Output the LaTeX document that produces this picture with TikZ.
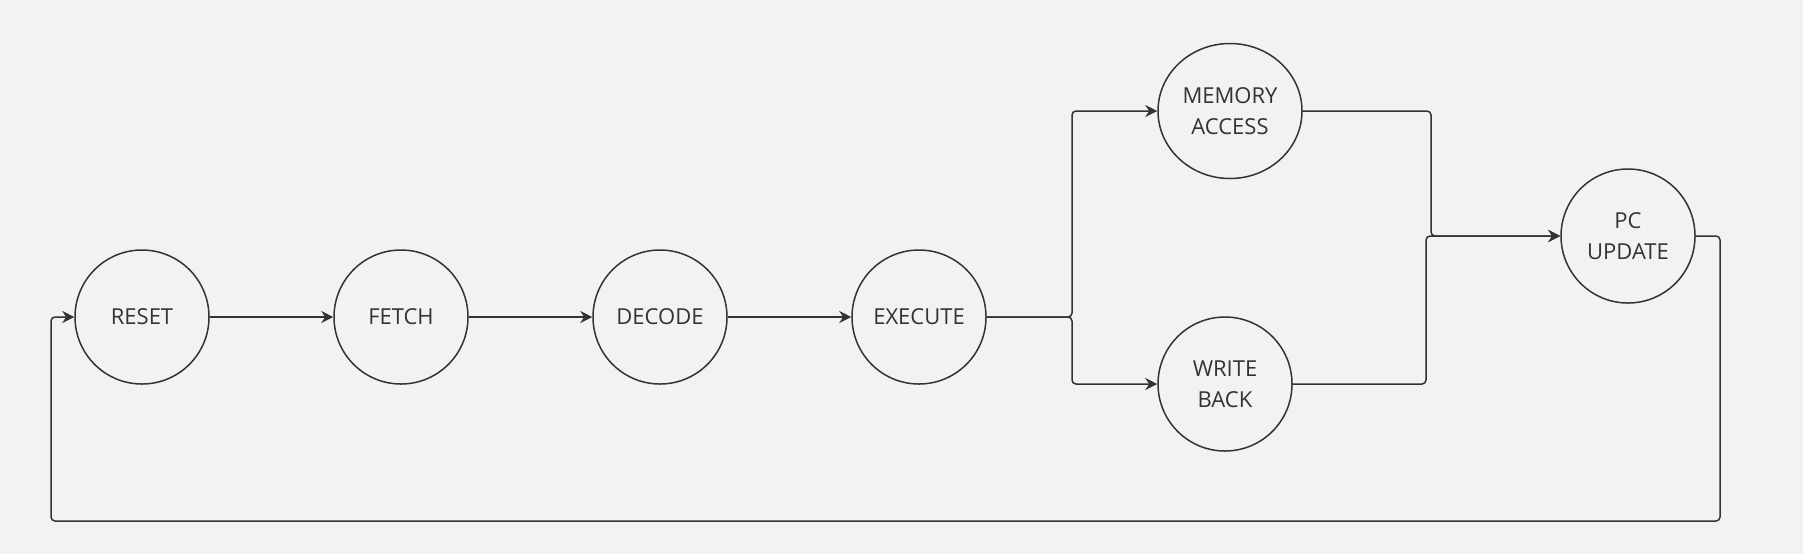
\documentclass[tikz,border=0pt]{standalone}
\usepackage{fontspec}
\setmainfont{Open Sans}
\usepackage{tikz}
\usetikzlibrary{arrows.meta}
\usetikzlibrary{shapes.geometric}
\definecolor{ink}{HTML}{333333}
\definecolor{paper}{HTML}{F2F2F2}
\tikzset{stage/.style={draw=ink, circle, line width=0.75pt, inner sep=0, minimum size=67pt, text=ink, font=\fontsize{11}{15.5}\selectfont, align=center}}
\tikzset{stage oval/.style={stage, ellipse, minimum width=72pt, minimum height=67.5pt}}
\tikzset{flow/.style={draw=ink, line width=0.75pt, rounded corners=2pt, -{Stealth[length=6pt,width=6pt]}}}

\begin{document}
\begin{tikzpicture}[x=0.5pt, y=-0.5pt]
  \useasboundingbox[fill=paper] (0,0) rectangle (1803,554);

  \node[stage] at (142, 317) (reset) {RESET};
  \node[stage] at (401, 317) (fetch) {FETCH};
  \node[stage] at (660, 317) (decode) {DECODE};
  \node[stage] at (919, 317) (exec) {EXECUTE};
  \node[stage oval] at (1230, 111) (mem) {MEMORY\\ACCESS};
  \node[stage] at (1225, 384) (wb) {WRITE\\BACK};
  \node[stage] at (1628, 236) (pc) {PC\\UPDATE};

  \coordinate (split) at (1072, 317);
  \coordinate (joinA) at (1431, 111);
  \coordinate (joinB) at (1426, 384);
  \coordinate (back) at (1720, 236);
  \coordinate (low) at (51, 521);

    \draw[flow] (reset) -- (fetch);
    \draw[flow] (fetch) -- (decode);
    \draw[flow] (decode) -- (exec);

    \draw[flow] (exec.east) -- (split) |- (mem.west);
    \draw[flow] (exec.east) -- (split) |- (wb.west);

    \draw[flow] (mem.east) -- (joinA) |- (pc.west);
    \draw[flow] (wb.east) -- (joinB) |- (pc.west);

    \draw[flow] (pc.east) -- (back) |- (low) |- (reset.west);
  \end{tikzpicture}
\end{document}
